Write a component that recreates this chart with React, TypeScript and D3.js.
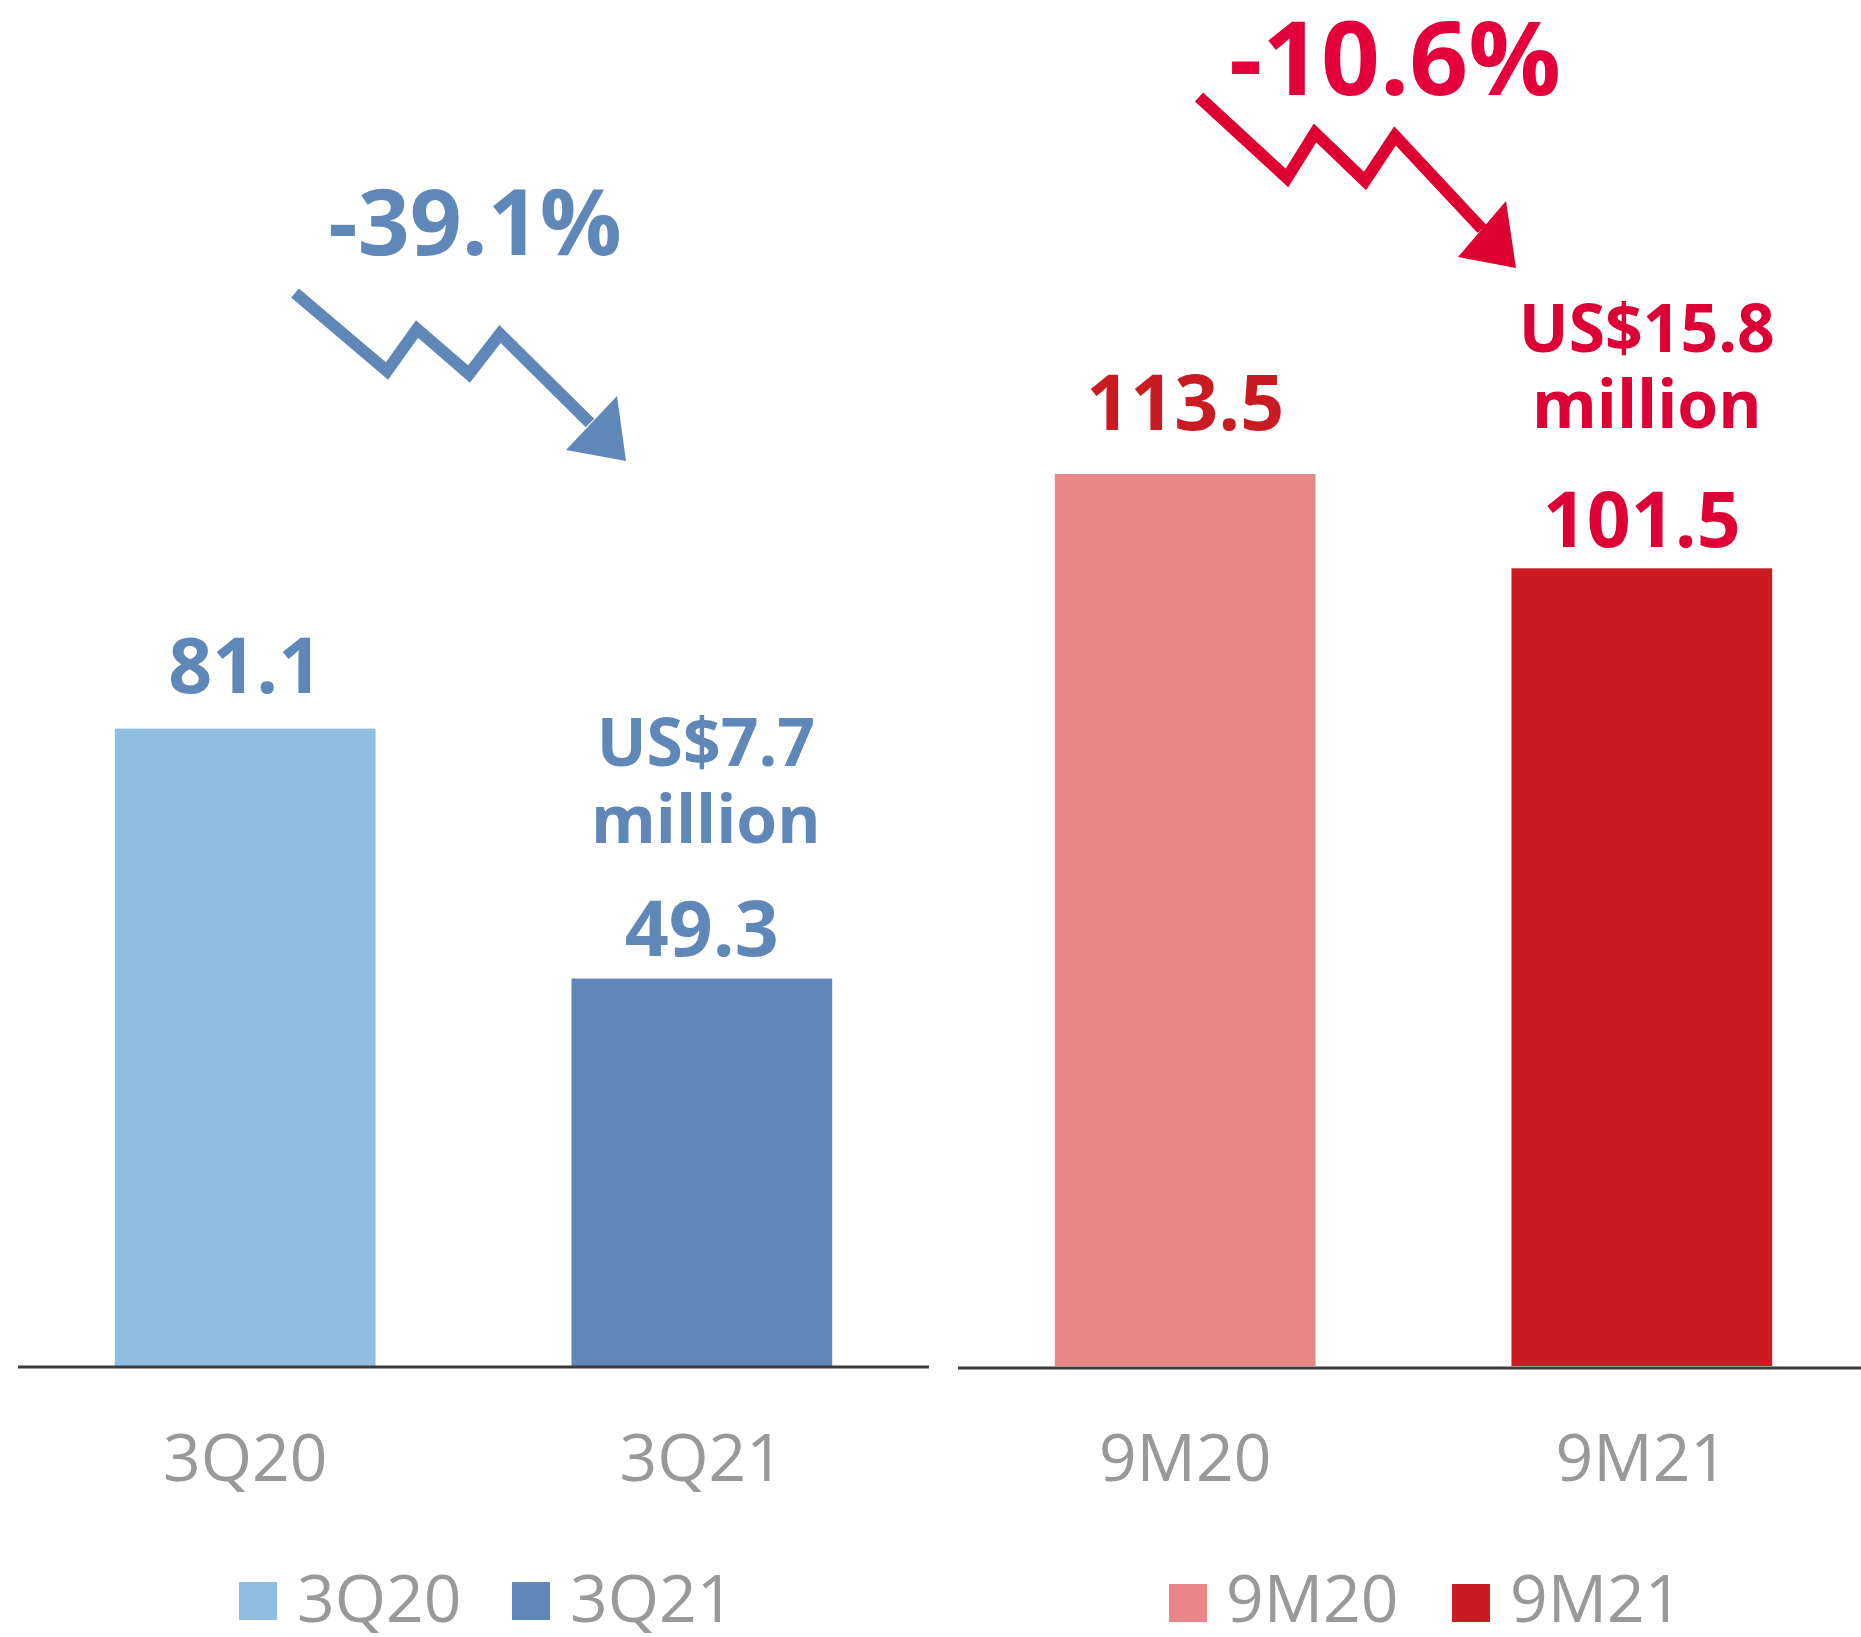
import React from 'react';
import * as d3 from 'd3';

// quarter panel
const quarterCats = ['3Q20', '3Q21'];
const quarterVals = [81.1, 49.3];
const quarterChange = '-39.1%';
const quarterProfit = ['US$7.7', 'million'];

// nine months panel
const nineCats = ['9M20', '9M21'];
const nineVals = [113.5, 101.5];
const nineChange = '-10.6%';
const nineProfit = ['US$15.8', 'million'];

const quarterColors = ['#8FBEE0', '#5F87B8'];
const nineColors = ['#E98788', '#CB1A21'];
const quarterLabelColors = ['#5F87B8', '#5F87B8'];
const nineLabelColors = ['#C91B22', '#DC0035'];

const FONT = '"Open Sans", "Noto Sans", sans-serif';
const W = 1861;
const H = 1637;
const BASE_Y = 1366;

// zigzag arrow, relative to its start point
const zigzag: [number, number][] = [[0, 0], [92, 78], [122, 36], [174, 81], [205, 41], [295, 130]];
const head: [number, number][] = [[331, 168], [271, 157], [322, 103]];
const redZigzag: [number, number][] = [[0, 0], [88, 81], [116, 36], [166, 84], [196, 39], [283, 132]];
const redHead: [number, number][] = [[317, 171], [259, 160], [307, 104]];

const Arrow = ({ x, y, line, tip, color }: any) => (
  <g transform={`translate(${x},${y})`}>
    <polyline
      points={line.map((p: number[]) => p.join(',')).join(' ')}
      fill="none"
      stroke={color}
      strokeWidth={12}
      strokeLinejoin="miter"
      strokeMiterlimit={10}
    />
    <polygon points={tip.map((p: number[]) => p.join(',')).join(' ')} fill={color} />
  </g>
);

const Panel = ({ cats, vals, colors, labelColors, range, y, lifts }: any) => {
  const x = d3.scaleBand<string>()
    .domain(cats)
    .range(range)
    .paddingInner(0.429)
    .paddingOuter(0.212);
  const bw = x.bandwidth();
  return (
    <g>
      {cats.map((c: string, i: number) => (
        <React.Fragment key={c}>
          <rect x={x(c)} y={y(vals[i])} width={bw} height={BASE_Y - y(vals[i])} fill={colors[i]} />
          <text
            x={(x(c) as number) + bw / 2}
            y={y(vals[i]) - lifts[i]}
            textAnchor="middle"
            fontFamily={FONT}
            fontWeight={700}
            fontSize={77}
            fill={labelColors[i]}
          >
            {vals[i].toFixed(1)}
          </text>
          <text
            x={(x(c) as number) + bw / 2}
            y={1481}
            textAnchor="middle"
            fontFamily={FONT}
            fontSize={66}
            fill="#999999"
          >
            {c}
          </text>
        </React.Fragment>
      ))}
    </g>
  );
};

const Legend = ({ items, colors, squares, texts, top }: any) => (
  <g>
    {items.map((d: string, i: number) => (
      <React.Fragment key={d}>
        <rect x={squares[i]} y={top} width={38} height={38} fill={colors[i]} />
        <text x={texts[i]} y={1622} fontFamily={FONT} fontSize={66} fill="#999999">{d}</text>
      </React.Fragment>
    ))}
  </g>
);

const App = () => {
  const y = d3.scaleLinear().domain([0, 113.5]).range([BASE_Y, 474]);

  const xq = d3.scaleBand<string>().domain(quarterCats).range([18, 929]).paddingInner(0.429).paddingOuter(0.212);
  const xn = d3.scaleBand<string>().domain(nineCats).range([958, 1869]).paddingInner(0.429).paddingOuter(0.212);
  const q2x = (xq(quarterCats[1]) as number) + xq.bandwidth() / 2;
  const n2x = (xn(nineCats[1]) as number) + xn.bandwidth() / 2;

  return (
    <svg width={W} height={H} style={{ position: 'absolute', left: 0, top: 0, background: '#fff' }}>
      <rect width={W} height={H} fill="#ffffff" />
      <Panel
        cats={quarterCats} vals={quarterVals} colors={quarterColors}
        labelColors={quarterLabelColors} range={[18, 929]} y={y} lifts={[36, 23]}
      />
      <Panel
        cats={nineCats} vals={nineVals} colors={nineColors}
        labelColors={nineLabelColors} range={[958, 1869]} y={y} lifts={[44, 21]}
      />

      {/* axis lines */}
      <line x1={18} x2={929} y1={BASE_Y + 1} y2={BASE_Y + 1} stroke="#3c3c3c" strokeWidth={3} />
      <line x1={958} x2={1861} y1={BASE_Y + 2} y2={BASE_Y + 2} stroke="#3c3c3c" strokeWidth={3} />

      {/* profit annotations */}
      <g fontFamily={FONT} fontWeight={700} fontSize={66} textAnchor="middle" fill="#5F87B8">
        <text x={q2x + 4} y={y(quarterVals[1]) - 213}>{quarterProfit[0]}</text>
        <text x={q2x + 4} y={y(quarterVals[1]) - 136}>{quarterProfit[1]}</text>
      </g>
      <g fontFamily={FONT} fontWeight={700} fontSize={66} textAnchor="middle" fill="#DC0035">
        <text x={n2x + 5} y={y(nineVals[1]) - 216}>{nineProfit[0]}</text>
        <text x={n2x + 5} y={y(nineVals[1]) - 140}>{nineProfit[1]}</text>
      </g>

      {/* change labels */}
      <text x={475} y={255} textAnchor="middle" fontFamily={FONT} fontWeight={700} fontSize={91} fill="#5F87B8">
        {quarterChange}
      </text>
      <text x={1395} y={95} textAnchor="middle" fontFamily={FONT} fontWeight={700} fontSize={103} fill="#E4003A">
        {nineChange}
      </text>

      <Arrow x={295} y={293} line={zigzag} tip={head} color="#5F87B8" />
      <Arrow x={1199} y={97} line={redZigzag} tip={redHead} color="#DF0032" />

      <Legend items={quarterCats} colors={quarterColors} squares={[239, 512]} texts={[297, 570]} top={1582} />
      <Legend items={nineCats} colors={nineColors} squares={[1169, 1452]} texts={[1226, 1510]} top={1584} />
    </svg>
  );
};

export default App;
